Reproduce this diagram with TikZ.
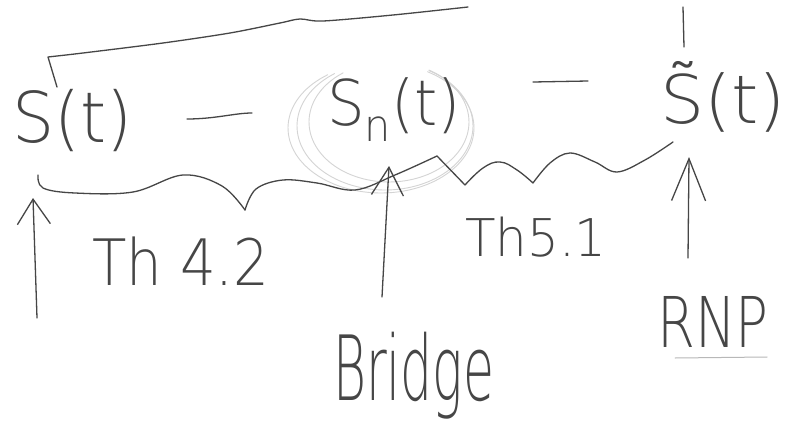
\documentclass[tikz,border=0pt]{standalone}
\usepackage{fontspec}
% a light face keeps the lettering thin, like pen strokes
\IfFontExistsTF{DejaVuSans-ExtraLight.ttf}
  {\setmainfont{DejaVuSans-ExtraLight.ttf}}
  {\IfFontExistsTF{Fira Sans Light}
    {\setmainfont{Fira Sans Light}}
    {\setmainfont{Liberation Sans}}}
\usepackage{graphicx}
\usetikzlibrary{arrows.meta}
\definecolor{ink}{RGB}{70,70,70}
\definecolor{faint}{RGB}{212,212,212}
% size, horizontal squeeze, text
\newcommand\handtext[3]{\fontsize{#1}{#1}\selectfont\scalebox{#2}[1]{#3}}

\begin{document}
\begin{tikzpicture}[x=1pt,y=-1pt,line cap=round,line join=round,
  pen/.style={draw=ink,line width=1.3pt},
  ring/.style={draw=faint,line width=0.9pt},
  word/.style={text=ink,inner sep=0pt,anchor=base west},
  uparrow/.style n args={2}{pen,-{Straight Barb[length=#1pt,width=#2pt]}}]

\useasboundingbox[fill=white] (0,0) rectangle (792,428);

% faint rings around S_n(t)
\foreach \cx/\cy/\rx/\ry in {385/126/88/64, 389/122/80/60, 381/128/93/65}
  \draw[ring] plot[smooth,domain=-60:235,samples=50] ({\cx+\rx*cos(\x)},{\cy+\ry*sin(\x)});

% the three terms
\node[word] (St)   at (12,142)  {\handtext{70}{0.95}{S(t)}};
\node[word] (Snt)  at (327,125) {\handtext{63}{0.94}{S\textsubscript{n}(t)}};
\node[word] (Stil) at (660,123) {\handtext{67}{1.04}{\~{S}(t)}};

% dashes between the terms
\coordinate (d1a) at (187,119); \coordinate (d1b) at (252,113);
\coordinate (d2a) at (533,82);  \coordinate (d2b) at (588,81);
\draw[pen] (d1a) .. controls (215,119) and (235,113) .. (d1b);
\draw[pen] (d2a) -- (d2b);

% bracket on top from S(t)
\coordinate (topfoot) at (57,87);
\coordinate (topcorner) at (48,57);
\coordinate (topend) at (468,7);
\draw[pen] (topfoot) -- (topcorner)
  plot[smooth,tension=0.5] coordinates {(48,57) (83,53) (163,43) (230,33) (280,23) (300,19) (323,21) (393,15) (topend)};

% tick above S~(t)
\coordinate (ticka) at (683,7); \coordinate (tickb) at (684,47);
\draw[pen] (ticka) -- (tickb);

% brace under S(t) .. S_n(t)
\coordinate (bstart) at (38,175);
\coordinate (bcusp) at (245,210);
\coordinate (bpeak) at (437,156);
\draw[pen] plot[smooth,tension=0.6] coordinates {(bstart) (43,188) (75,193) (133,192) (183,175) (222,186) (bcusp)};
\draw[pen] plot[smooth,tension=0.6] coordinates {(bcusp) (256,189) (283,180) (317,183) (355,190) (395,175) (bpeak)};

% wavy line under S_n(t) .. S~(t)
\coordinate (z1) at (465,185);
\coordinate (z2) at (533,183);
\coordinate (zend) at (673,142);
\draw[pen] (bpeak) -- (z1);
\draw[pen] plot[smooth,tension=0.7] coordinates {(z1) (483,168) (500,162) (517,170) (z2)};
\draw[pen] plot[smooth,tension=0.6] coordinates {(z2) (550,163) (570,153) (595,162) (617,172) (645,160) (zend)};

% arrows
\coordinate (a1tail) at (37,318); \coordinate (a1tip) at (33,198);
\coordinate (a2tail) at (382,297); \coordinate (a2tip) at (389,166);
\coordinate (a3tail) at (688,258); \coordinate (a3tip) at (689,157);
\draw[uparrow={25}{33}] (a1tail) -- (a1tip);
\draw[uparrow={28}{32}] (a2tail) -- (a2tip);
\draw[uparrow={42}{34}] (a3tail) -- (a3tip);

% labels
\node[word] (th42)   at (92,285)  {\handtext{64}{0.88}{Th 4.2}};
\node[word] (th51)   at (465,256) {\handtext{52}{0.96}{Th5.1}};
\node[word] (bridge) at (333,400) {\handtext{90}{0.56}{Bridge}};
\node[word] (rnp)    at (657,347) {\handtext{70}{0.78}{RNP}};

% underline below RNP
\coordinate (ula) at (675,358); \coordinate (ulb) at (767,357);
\draw[draw=faint!80!ink,line width=1pt] (ula) -- (ulb);
\end{tikzpicture}
\end{document}
